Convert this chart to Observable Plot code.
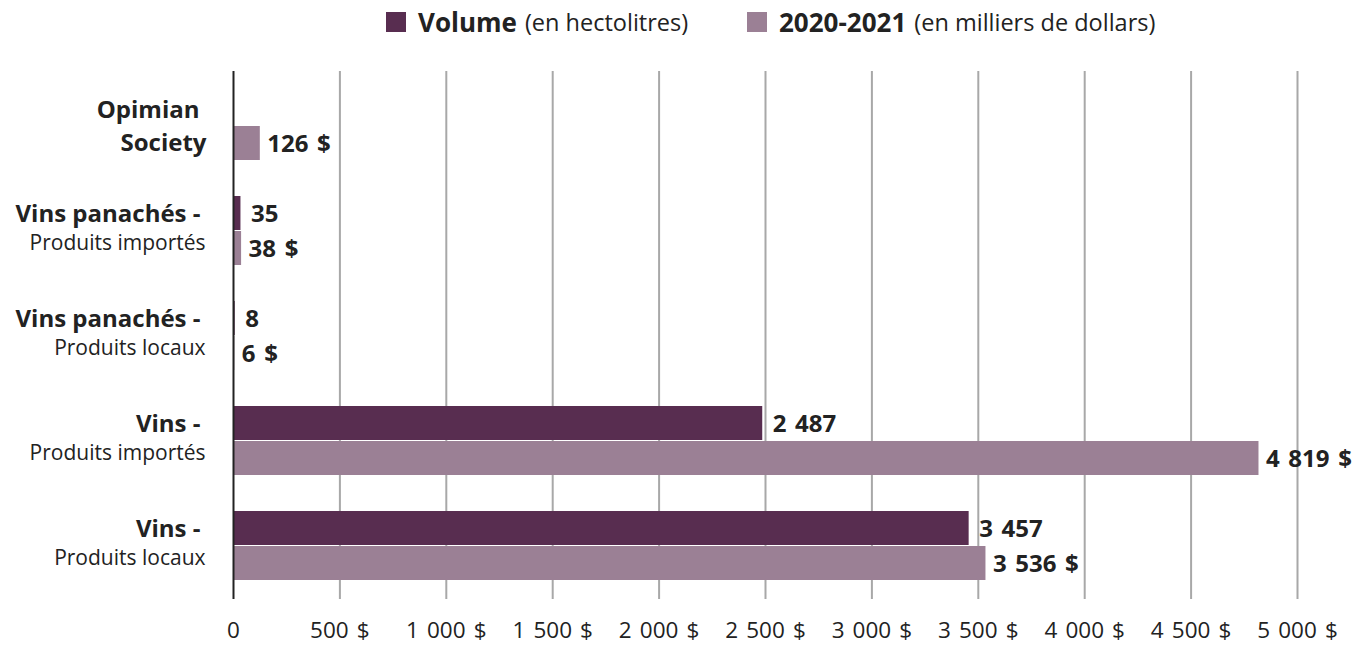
<!DOCTYPE html>
<html><head><meta charset="utf-8">
<script src="https://cdn.jsdelivr.net/npm/d3@7"></script>
<script src="https://cdn.jsdelivr.net/npm/@observablehq/plot@0.6"></script>
<style>
body{margin:0;background:#fff;font-family:"Open Sans","Noto Sans",sans-serif;color:#222;}
#legend{position:relative;height:50px;}
.item{position:absolute;top:0;height:44px;display:flex;align-items:center;white-space:nowrap;font-size:23.5px;}
.sw{display:inline-block;width:20px;height:20px;margin-right:12px;}
.item b{font-size:26px;margin-right:8px;}
</style></head>
<body>
<div id="legend">
  <div class="item" style="left:386px"><span class="sw" style="background:#582d50"></span><b>Volume</b><span>(en hectolitres)</span></div>
  <div class="item" style="left:747px"><span class="sw" style="background:#9b8095"></span><b>2020-2021</b><span>(en milliers de dollars)</span></div>
</div>
<div id="chart"></div>
<script>
const categories = ["Opimian Society","Vins panachés - Produits importés","Vins panachés - Produits locaux","Vins - Produits importés","Vins - Produits locaux"];
const line1 = ["Opimian","Vins panachés -","Vins panachés -","Vins -","Vins -"];
const line2 = ["Society","Produits importés","Produits locaux","Produits importés","Produits locaux"];
const line2Bold = [true,false,false,false,false];
const volume = [null,35,8,2487,3457];
const valeur = [126,38,6,4819,3536];
const xTicks = [0,500,1000,1500,2000,2500,3000,3500,4000,4500,5000];

const SP = "\u00a0\u200a";
const fr = d3.formatLocale({decimal:",",thousands:SP,grouping:[3],currency:["",SP+"$"]});
const fmt = fr.format(",d");
const fmtD = fr.format("$,d");

const rows = categories.map((c,i)=>({cat:c,l1:line1[i],l2:line2[i],b2:line2Bold[i],vol:volume[i],val:valeur[i]}));
const volRows = rows.filter(d=>d.vol!=null);
const boldTwo = rows.filter(d=>d.b2);
const normTwo = rows.filter(d=>!d.b2);

const COL_VOL="#582d50", COL_VAL="#9b8095", INK="#222";
const chart = Plot.plot({
  width:1366, height:595,
  marginLeft:233, marginRight:69, marginTop:21, marginBottom:46,
  style:{fontFamily:"'Open Sans', 'Noto Sans', sans-serif", color:INK, background:"#fff"},
  x:{domain:[0,5000], label:null},
  y:{domain:categories, padding:0, axis:null},
  marks:[
    Plot.gridX(xTicks.filter(d=>d>0), {stroke:"#a8a8a8", strokeWidth:2, strokeOpacity:1}),
    Plot.axisX({ticks:xTicks, tickFormat:d=>d===0?"0":fmtD(d), tickSize:0, tickPadding:23, fontSize:22.5, fill:INK, label:null}),
    Plot.barX(volRows,{y:"cat", x:"vol", fill:COL_VOL, insetTop:18, insetBottom:53}),
    Plot.barX(rows,{y:"cat", x:"val", fill:COL_VAL, insetTop:53, insetBottom:18}),
    Plot.ruleX([0],{stroke:INK, strokeWidth:2}),
    Plot.text(volRows,{y:"cat", x:"vol", text:d=>fmt(d.vol), dx:10, dy:-17, textAnchor:"start", fontWeight:"bold", fontSize:24, fill:INK}),
    Plot.text(rows,{y:"cat", x:"val", text:d=>fmtD(d.val), dx:7, dy:18, textAnchor:"start", fontWeight:"bold", fontSize:24, fill:INK}),
    Plot.text(boldTwo,{y:"cat", x:()=>0, text:"l1", dx:-34, dy:-16, textAnchor:"end", fontWeight:"bold", fontSize:24, fill:INK}),
    Plot.text(boldTwo,{y:"cat", x:()=>0, text:"l2", dx:-27, dy:17, textAnchor:"end", fontWeight:"bold", fontSize:24, fill:INK}),
    Plot.text(normTwo,{y:"cat", x:()=>0, text:"l1", dx:-33, dy:-17, textAnchor:"end", fontWeight:"bold", fontSize:24, fill:INK}),
    Plot.text(normTwo,{y:"cat", x:()=>0, text:"l2", dx:-28, dy:12, textAnchor:"end", fontSize:21, fill:INK})
  ]
});
document.getElementById("chart").appendChild(chart);
</script>
</body></html>
